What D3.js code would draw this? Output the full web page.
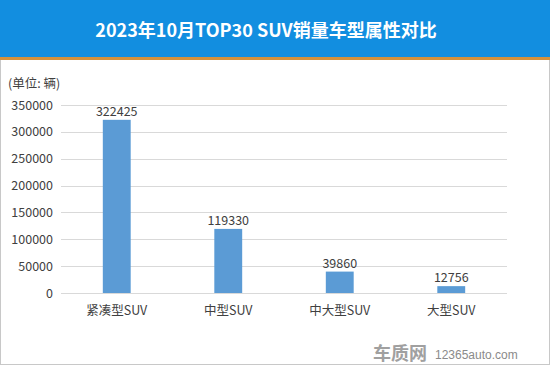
<!DOCTYPE html>
<html>
<head>
<meta charset="utf-8">
<script src="https://cdn.jsdelivr.net/npm/d3@7"></script>
<style>
  body { margin: 0; background: #fff; }
  text { font-family: "Noto Sans CJK SC", "Noto Sans", sans-serif; }
</style>
</head>
<body>
<div id="chart"></div>
<script>
var title = "2023年10月TOP30 SUV销量车型属性对比",
    unitLabel = "(单位: 辆)";
var categories = ["紧凑型SUV", "中型SUV", "中大型SUV", "大型SUV"],
    sales = [322425, 119330, 39860, 12756],
    yTicks = [0, 50000, 100000, 150000, 200000, 250000, 300000, 350000];

var width = 550, height = 365;

var svg = d3.select("#chart").append("svg")
            .attr("width", width)
            .attr("height", height);

// frame + header
svg.append("rect")
   .attr("x", 0.5).attr("y", 0.5)
   .attr("width", width - 1).attr("height", height - 1)
   .style("fill", "#fff").style("stroke", "#c8c8c8");

svg.append("rect")
   .attr("x", 0).attr("y", 0)
   .attr("width", width).attr("height", 57)
   .style("fill", "#128ee0");

svg.append("rect")
   .attr("x", 0).attr("y", 57)
   .attr("width", width).attr("height", 3)
   .style("fill", "#d4913c");

svg.append("text")
   .attr("x", 266).attr("y", 37)
   .attr("text-anchor", "middle")
   .style("font-size", "18px").style("font-weight", "bold")
   .style("fill", "#fff")
   .text(title);

var margin = {top: 105, left: 61, right: 43, bottom: 72},
    gwidth = width - margin.left - margin.right,
    gheight = 293 - margin.top;

var g = svg.append("g")
           .attr("transform", "translate(" + margin.left + "," + margin.top + ")");

var xScale = d3.scaleBand()
               .domain(categories)
               .range([0, gwidth])
               .paddingInner(0.75)
               .paddingOuter(0.375);

var yScale = d3.scaleLinear()
               .domain([0, 350000])
               .range([gheight, 0]);

// gridlines
g.selectAll("line.grid")
 .data(yTicks)
 .enter()
 .append("line")
 .attr("class", "grid")
 .attr("x1", 0).attr("x2", gwidth)
 .attr("y1", d => Math.round(yScale(d)) + 0.5)
 .attr("y2", d => Math.round(yScale(d)) + 0.5)
 .style("stroke", "#d9d9d9");

// y axis labels
var yAxis = d3.axisLeft(yScale).tickValues(yTicks).tickSize(0).tickPadding(8)
              .tickFormat(d3.format("d"));
var yg = g.append("g").call(yAxis);
yg.select(".domain").remove();
yg.selectAll("text")
  .style("font-size", "12.5px").style("fill", "#404040")
  .style("font-family", "'Noto Sans CJK SC', sans-serif");

// x axis labels
var xAxis = d3.axisBottom(xScale).tickSize(0).tickPadding(13);
var xg = g.append("g").attr("transform", "translate(0," + gheight + ")").call(xAxis);
xg.select(".domain").remove();
xg.selectAll("text")
  .style("font-size", "12.5px").style("fill", "#404040")
  .style("font-family", "'Noto Sans CJK SC', sans-serif");

// bars
g.selectAll("rect.bar")
 .data(sales)
 .enter()
 .append("rect")
 .attr("class", "bar")
 .attr("x", (d, i) => xScale(categories[i]))
 .attr("width", xScale.bandwidth())
 .attr("y", d => yScale(d))
 .attr("height", d => gheight - yScale(d))
 .style("fill", "#5b9bd5");

// value labels
g.selectAll("text.val")
 .data(sales)
 .enter()
 .append("text")
 .attr("class", "val")
 .attr("x", (d, i) => xScale(categories[i]) + xScale.bandwidth() / 2)
 .attr("y", d => yScale(d) - 4)
 .attr("text-anchor", "middle")
 .style("font-size", "12.5px").style("fill", "#404040")
 .text(d => d);

svg.append("text")
   .attr("x", 8).attr("y", 88)
   .style("font-size", "12.5px").style("fill", "#404040")
   .text(unitLabel);

// watermark
svg.append("text")
   .attr("x", 373).attr("y", 360)
   .style("font-size", "18px").style("font-weight", "bold")
   .style("fill", "#a0a0a0")
   .text("车质网");
svg.append("text")
   .attr("x", 435).attr("y", 359)
   .style("font-size", "12px")
   .style("font-family", "'Liberation Sans', sans-serif")
   .style("fill", "#8a8a8a")
   .text("12365auto.com");
</script>
</body>
</html>
